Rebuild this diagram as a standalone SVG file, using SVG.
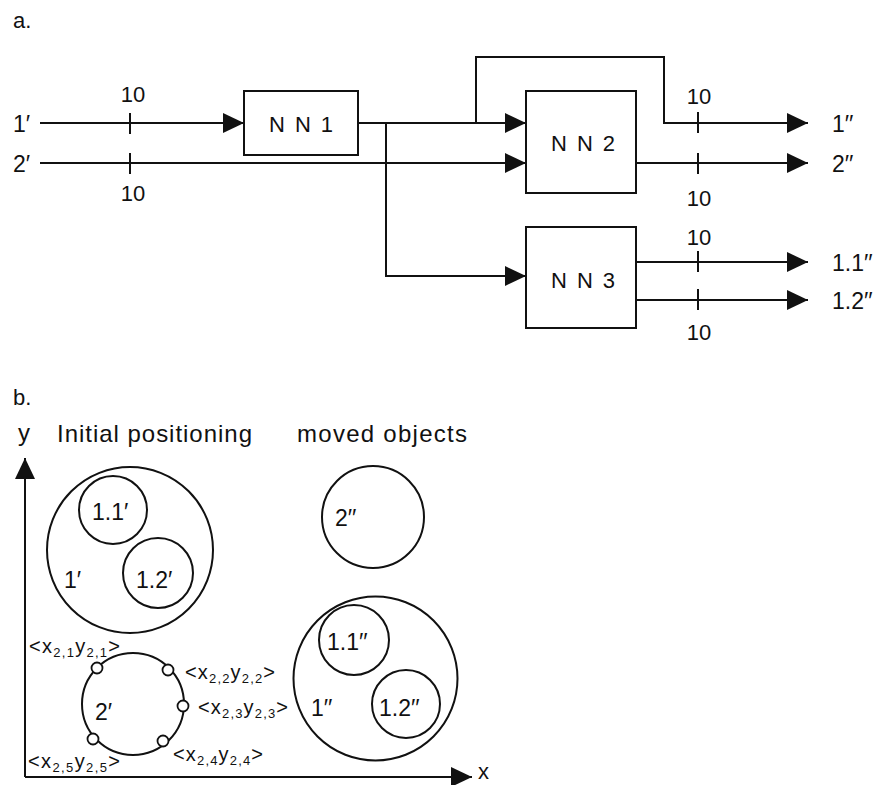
<svg xmlns="http://www.w3.org/2000/svg" width="886" height="785" viewBox="0 0 886 785">
<defs>
<marker id="ah" markerWidth="22" markerHeight="22" refX="21" refY="10" orient="auto" markerUnits="userSpaceOnUse"><path d="M0,0 L21,10 L0,20 z" fill="#111"/></marker>
<style>
text{font-family:"Liberation Sans",Arial,sans-serif;fill:#111}
.lbl{font-size:23px}
.num{font-size:22px;text-anchor:middle}
.nn{font-size:22px;text-anchor:middle}
.box{fill:#fff;stroke:#111;stroke-width:2}
.ln{fill:none;stroke:#111;stroke-width:2}
.arr{fill:none;stroke:#111;stroke-width:2;marker-end:url(#ah)}
.circ{fill:none;stroke:#111;stroke-width:2}
.dot{fill:#fff;stroke:#111;stroke-width:1.8}
.co{font-size:20px}
.sub{font-size:13px}
.hd{font-size:22px}
.tt{font-size:24px}
</style>
</defs>
<rect width="886" height="785" fill="#fff"/>
<text class="hd" x="13" y="28">a.</text>
<text class="hd" x="13" y="405">b.</text>

<g id="connectors">
<path class="arr" d="M40,123 H244"/>
<path class="arr" d="M40,163 H526"/>
<path class="arr" d="M358,123 H526"/>
<path class="arr" d="M386,123 V276 H526"/>
<path class="arr" d="M476,123 V57 H664 V123 H808"/>
<path class="arr" d="M636,163 H808"/>
<path class="arr" d="M636,262 H808"/>
<path class="arr" d="M636,300 H808"/>
<path class="ln" d="M130,113 V134 M130,153 V174 M698,112 V133 M698,153 V174 M698,251 V272 M698,289 V310"/>
</g>

<g id="inputs">
<text class="lbl" x="13" y="132">1′</text>
<text class="lbl" x="13" y="172">2′</text>
<text class="num" x="133" y="102">10</text>
<text class="num" x="133" y="201">10</text>
</g>

<g id="NN1">
<rect class="box" x="244" y="91" width="114" height="64"/>
<text class="nn" x="301" y="132" textLength="64" lengthAdjust="spacing">N N 1</text>
</g>
<g id="NN2">
<rect class="box" x="526" y="91" width="110" height="102"/>
<text class="nn" x="583" y="151" textLength="64" lengthAdjust="spacing">N N 2</text>
</g>
<g id="NN3">
<rect class="box" x="526" y="227" width="110" height="101"/>
<text class="nn" x="583" y="288" textLength="64" lengthAdjust="spacing">N N 3</text>
</g>

<g id="outputs">
<text class="num" x="699" y="104">10</text>
<text class="num" x="699" y="206">10</text>
<text class="num" x="699" y="245">10</text>
<text class="num" x="699" y="340">10</text>
<text class="lbl" x="832" y="132">1′′</text>
<text class="lbl" x="832" y="172">2′′</text>
<text class="lbl" x="832" y="271">1.1′′</text>
<text class="lbl" x="832" y="309">1.2′′</text>
</g>

<g id="axes">
<path class="arr" d="M25,777 V458"/>
<path class="arr" d="M25,777 H472"/>
<text class="tt" x="18" y="441">y</text>
<text class="hd" x="478" y="779">x</text>
<text class="tt" x="57" y="442" textLength="195" lengthAdjust="spacing">Initial positioning</text>
<text class="tt" x="297" y="442" textLength="170" lengthAdjust="spacing">moved objects</text>
</g>

<g id="obj1-initial">
<circle class="circ" cx="130" cy="550" r="83"/>
<circle class="circ" cx="113" cy="510" r="34"/>
<circle class="circ" cx="158" cy="573" r="35"/>
<text class="lbl" x="92" y="520">1.1′</text>
<text class="lbl" x="64" y="588">1′</text>
<text class="lbl" x="136" y="588">1.2′</text>
</g>

<g id="obj2-initial">
<circle class="circ" cx="133" cy="704" r="51"/>
<circle class="dot" cx="97" cy="668" r="5.5"/>
<circle class="dot" cx="168" cy="670" r="5.5"/>
<circle class="dot" cx="183" cy="706" r="5.5"/>
<circle class="dot" cx="163" cy="741" r="5.5"/>
<circle class="dot" cx="93" cy="739" r="5.5"/>
<text class="lbl" x="95" y="720">2′</text>
<text class="co" x="29" y="653" textLength="91" lengthAdjust="spacing">&lt;x<tspan class="sub" dy="4">2,1</tspan><tspan dy="-4">y</tspan><tspan class="sub" dy="4">2,1</tspan><tspan dy="-4">&gt;</tspan></text>
<text class="co" x="185" y="679" textLength="90" lengthAdjust="spacing">&lt;x<tspan class="sub" dy="4">2,2</tspan><tspan dy="-4">y</tspan><tspan class="sub" dy="4">2,2</tspan><tspan dy="-4">&gt;</tspan></text>
<text class="co" x="198" y="714" textLength="90" lengthAdjust="spacing">&lt;x<tspan class="sub" dy="4">2,3</tspan><tspan dy="-4">y</tspan><tspan class="sub" dy="4">2,3</tspan><tspan dy="-4">&gt;</tspan></text>
<text class="co" x="173" y="761" textLength="90" lengthAdjust="spacing">&lt;x<tspan class="sub" dy="4">2,4</tspan><tspan dy="-4">y</tspan><tspan class="sub" dy="4">2,4</tspan><tspan dy="-4">&gt;</tspan></text>
<text class="co" x="28" y="768" textLength="92" lengthAdjust="spacing">&lt;x<tspan class="sub" dy="4">2,5</tspan><tspan dy="-4">y</tspan><tspan class="sub" dy="4">2,5</tspan><tspan dy="-4">&gt;</tspan></text>
</g>

<g id="obj2-moved">
<circle class="circ" cx="373" cy="517" r="51"/>
<text class="lbl" x="335" y="526">2′′</text>
</g>

<g id="obj1-moved">
<circle class="circ" cx="375.5" cy="678.5" r="82"/>
<circle class="circ" cx="354" cy="640" r="35"/>
<circle class="circ" cx="406" cy="704" r="34"/>
<text class="lbl" x="327" y="650">1.1′′</text>
<text class="lbl" x="311" y="716">1′′</text>
<text class="lbl" x="379" y="716">1.2′′</text>
</g>
</svg>
